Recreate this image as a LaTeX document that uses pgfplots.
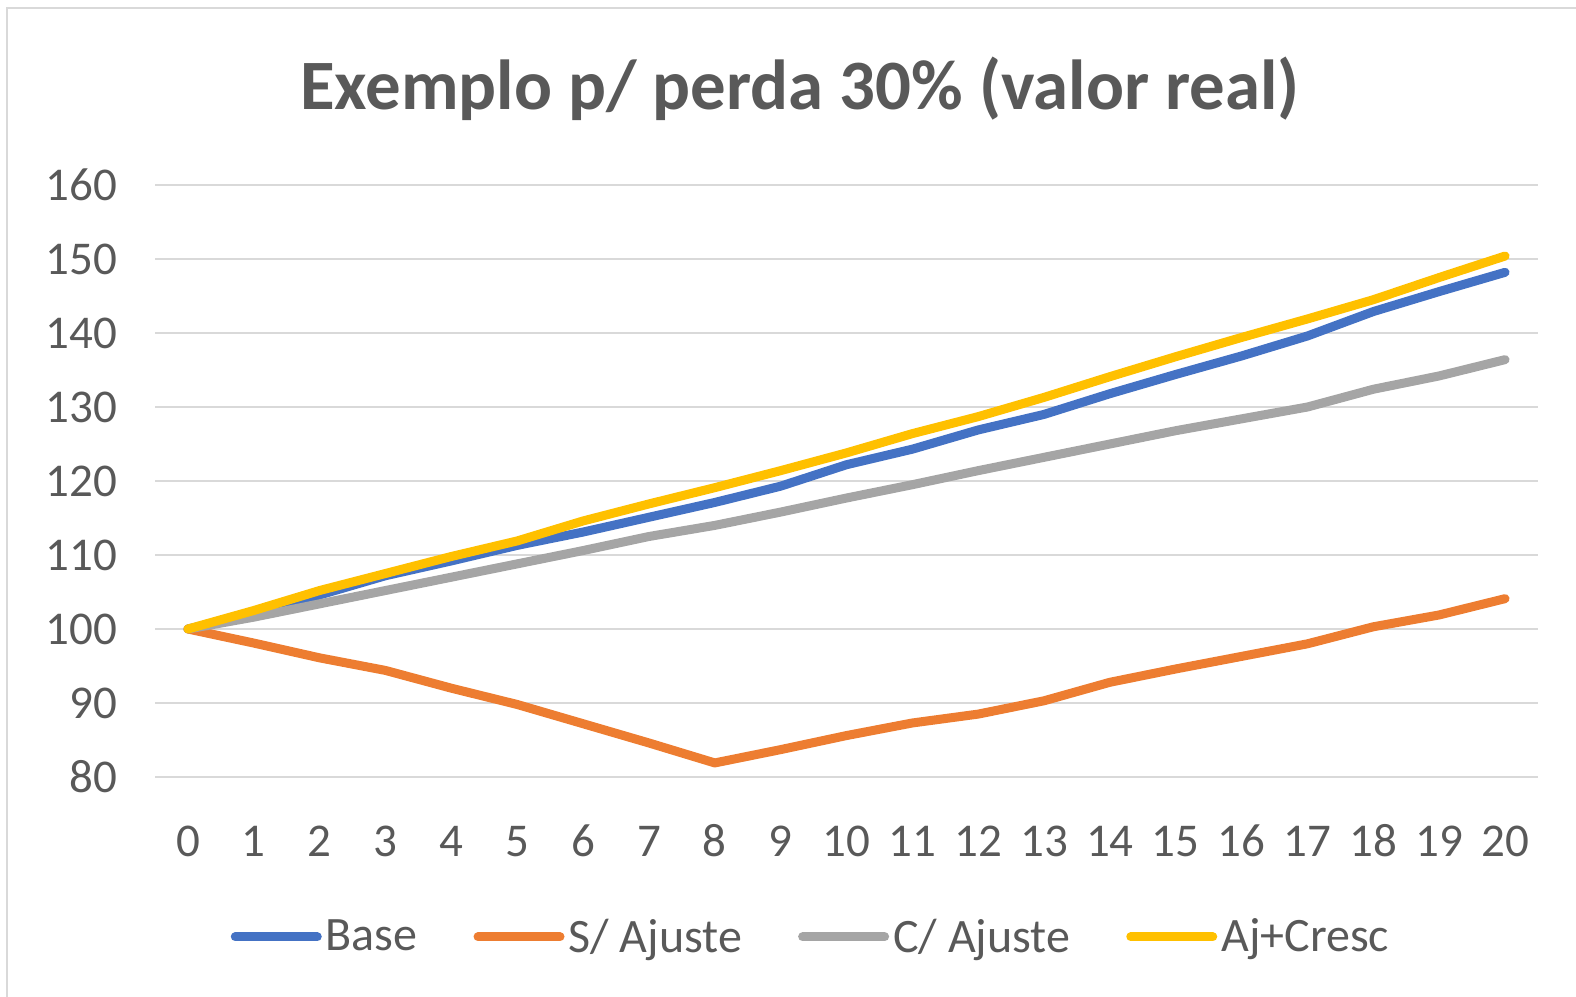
\documentclass[border=0pt]{standalone}
\usepackage{fontspec}
\setmainfont{Carlito}
\usepackage{pgfplots}
\pgfplotsset{compat=1.18}
\definecolor{cBase}{HTML}{4472C4}
\definecolor{cSA}{HTML}{ED7D31}
\definecolor{cCA}{HTML}{A5A5A5}
\definecolor{cAC}{HTML}{FFC000}
\definecolor{txt}{HTML}{595959}
\definecolor{grd}{HTML}{D9D9D9}
\begin{document}
\begin{tikzpicture}
\useasboundingbox (0,0) rectangle (788pt,498.5pt);
\draw[grd, line width=1.2pt] (3.5pt,-2pt) -- (3.5pt,494.5pt) -- (790pt,494.5pt);
\node[anchor=base, text=txt, font=\fontsize{35.4}{40}\selectfont\bfseries] at (400pt,443.5pt) {Exemplo p/ perda 30\% (valor real)};
\begin{axis}[
  at={(77.5pt,110pt)}, anchor=south west,
  scale only axis, width=691.5pt, height=296pt,
  xmin=-0.5, xmax=20.5, ymin=80, ymax=160,
  xtick={0,...,20}, ytick={80,90,...,160},
  axis line style={draw=none},
  tick style={draw=none},
  ymajorgrids, grid style={grd, line width=1.1pt},
  /pgf/number format/assume math mode=true,
  ticklabel style={text=txt, font=\fontsize{23.5}{28}\selectfont},
  yticklabel style={xshift=-15.5pt},
  xticklabel style={anchor=base, yshift=-40pt},
  legend columns=4,
  legend style={at={(0.475,-0.270)}, anchor=center, draw=none, fill=none,
    font=\fontsize{24}{28}\selectfont, text=txt,
    /tikz/every even column/.append style={column sep=26pt}},
  legend image code/.code={\draw[#1, line cap=round] (0pt,0pt) -- (41pt,0pt);},
  every axis plot/.append style={line width=4.5pt, line cap=round, line join=round, mark=none},
]
\addplot[cBase] coordinates {(0,100)(1,102.0)(2,104.6)(3,107.2)(4,109.2)(5,111.3)(6,113.1)(7,115.1)(8,117.1)(9,119.3)(10,122.2)(11,124.3)(12,126.9)(13,129.0)(14,131.8)(15,134.4)(16,136.9)(17,139.6)(18,142.9)(19,145.6)(20,148.2)};
\addlegendentry{Base}
\addplot[cSA] coordinates {(0,100)(1,98.1)(2,96.1)(3,94.4)(4,92.0)(5,89.8)(6,87.2)(7,84.6)(8,81.9)(9,83.7)(10,85.6)(11,87.3)(12,88.5)(13,90.3)(14,92.8)(15,94.6)(16,96.3)(17,98.0)(18,100.3)(19,101.9)(20,104.1)};
\addlegendentry{S/ Ajuste}
\addplot[cCA] coordinates {(0,100)(1,101.6)(2,103.4)(3,105.2)(4,107.0)(5,108.8)(6,110.6)(7,112.5)(8,114.0)(9,115.8)(10,117.7)(11,119.5)(12,121.4)(13,123.2)(14,125.0)(15,126.8)(16,128.4)(17,130.0)(18,132.4)(19,134.2)(20,136.4)};
\addlegendentry{C/ Ajuste}
\addplot[cAC] coordinates {(0,100)(1,102.5)(2,105.2)(3,107.5)(4,109.8)(5,111.9)(6,114.6)(7,116.9)(8,119.1)(9,121.4)(10,123.8)(11,126.4)(12,128.7)(13,131.3)(14,134.1)(15,136.8)(16,139.4)(17,141.9)(18,144.5)(19,147.5)(20,150.4)};
\addlegendentry{Aj+Cresc}
\end{axis}
\end{tikzpicture}
\end{document}
